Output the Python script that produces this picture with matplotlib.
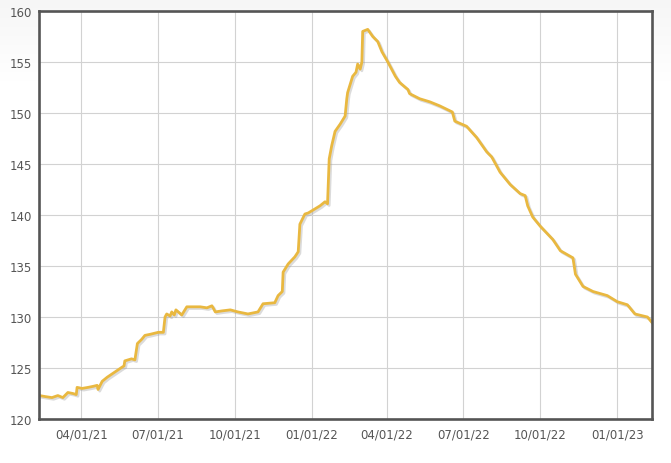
import numpy as np
import pandas as pd
import matplotlib
matplotlib.use("Agg")
import matplotlib.pyplot as plt
import matplotlib.dates as mdates
import matplotlib.patheffects as pe

# values
dates = [
    "2021-02-10", "2021-02-17", "2021-02-25", "2021-03-04", "2021-03-10", "2021-03-16",
    "2021-03-22", "2021-03-26", "2021-03-27", "2021-04-02", "2021-04-09", "2021-04-15",
    "2021-04-20", "2021-04-21", "2021-04-26", "2021-05-02", "2021-05-11", "2021-05-20",
    "2021-05-22", "2021-05-23", "2021-05-31", "2021-06-04", "2021-06-07", "2021-06-12",
    "2021-06-16", "2021-06-22", "2021-07-02", "2021-07-08", "2021-07-10", "2021-07-12",
    "2021-07-16", "2021-07-18", "2021-07-21", "2021-07-23", "2021-07-30", "2021-08-05",
    "2021-08-21", "2021-08-29", "2021-09-04", "2021-09-08", "2021-09-16", "2021-09-26",
    "2021-10-05", "2021-10-11", "2021-10-17", "2021-10-29", "2021-11-04", "2021-11-18",
    "2021-11-22", "2021-11-27", "2021-11-28", "2021-12-04", "2021-12-12", "2021-12-16",
    "2021-12-18", "2021-12-24", "2021-12-28", "2022-01-01", "2022-01-11", "2022-01-17",
    "2022-01-20", "2022-01-22", "2022-01-25", "2022-01-29", "2022-02-04", "2022-02-10",
    "2022-02-12", "2022-02-13", "2022-02-19", "2022-02-23", "2022-02-25", "2022-02-28",
    "2022-03-02", "2022-03-03", "2022-03-09", "2022-03-15", "2022-03-21", "2022-03-26",
    "2022-04-02", "2022-04-11", "2022-04-16", "2022-04-26", "2022-04-28", "2022-05-10",
    "2022-05-22", "2022-06-03", "2022-06-18", "2022-06-21", "2022-07-05", "2022-07-17",
    "2022-07-29", "2022-08-04", "2022-08-14", "2022-08-26", "2022-09-07", "2022-09-13",
    "2022-09-16", "2022-09-22", "2022-10-01", "2022-10-16", "2022-10-25", "2022-11-09",
    "2022-11-12", "2022-11-21", "2022-12-03", "2022-12-20", "2023-01-01", "2023-01-13",
    "2023-01-22", "2023-02-06", "2023-02-12",
]
values = [
    122.3, 122.2, 122.1, 122.3, 122.1, 122.6,
    122.5, 122.4, 123.1, 123.0, 123.1, 123.2,
    123.3, 122.9, 123.7, 124.1, 124.6, 125.1,
    125.2, 125.7, 125.9, 125.8, 127.4, 127.8,
    128.2, 128.3, 128.5, 128.5, 130.0, 130.3,
    130.1, 130.5, 130.2, 130.7, 130.2, 131.0,
    131.0, 130.9, 131.1, 130.5, 130.6, 130.7,
    130.5, 130.4, 130.3, 130.5, 131.3, 131.4,
    132.1, 132.5, 134.4, 135.2, 135.9, 136.4,
    139.1, 140.1, 140.2, 140.4, 140.9, 141.3,
    141.1, 145.5, 146.8, 148.2, 148.9, 149.7,
    151.4, 152.0, 153.6, 154.0, 154.8, 154.3,
    155.0, 158.0, 158.2, 157.5, 157.0, 156.0,
    155.0, 153.6, 153.0, 152.3, 151.9, 151.4,
    151.1, 150.7, 150.1, 149.2, 148.7, 147.6,
    146.2, 145.7, 144.2, 143.0, 142.1, 141.9,
    140.9, 139.8, 138.9, 137.6, 136.5, 135.8,
    134.2, 133.0, 132.5, 132.1, 131.5, 131.2,
    130.3, 130.0, 129.4,
]
xticks = ["2021-04-01", "2021-07-01", "2021-10-01", "2022-01-01",
          "2022-04-01", "2022-07-01", "2022-10-01", "2023-01-01"]
yticks = [120, 125, 130, 135, 140, 145, 150, 155, 160]

x = pd.to_datetime(dates)

fig = plt.figure(figsize=(6.71, 4.64), dpi=100)

# faint gradient at the top of the picture
bg = fig.add_axes([0, 0, 1, 1], zorder=-5)
grad = np.linspace(0, 1, 200).reshape(-1, 1)
shade = np.clip(0.965 + grad * 0.2, 0, 1)
bg.imshow(np.dstack([shade, shade, shade]), aspect="auto", extent=[0, 1, 0, 1],
          origin="upper")
bg.set_axis_off()

ax = fig.add_axes([0.0581, 0.0948, 0.9136, 0.8793])
ax.set_facecolor("white")

ax.plot(x, values, color="#E9B840", lw=2.0, solid_joinstyle="round",
        path_effects=[pe.SimpleLineShadow(offset=(1.2, -1.2), shadow_color="#999999", alpha=0.35),
                      pe.Normal()], zorder=3)

ax.set_xlim(pd.Timestamp("2021-02-09 12:00"), pd.Timestamp("2023-02-11 10:00"))
ax.set_ylim(120, 160)
ax.set_yticks(yticks)
ax.set_xticks(pd.to_datetime(xticks))
ax.xaxis.set_major_formatter(mdates.DateFormatter("%m/%d/%y"))

ax.grid(True, color="#d2d2d2", lw=0.8)
ax.set_axisbelow(True)
ax.tick_params(length=0, labelsize=8.5, labelcolor="#555555")
ax.tick_params(axis="y", pad=5)
ax.tick_params(axis="x", pad=6)
for s in ax.spines.values():
    s.set_color("#555555")
    s.set_linewidth(1.9)
    s.set_zorder(4)

fig.savefig("out.png", dpi=100)
